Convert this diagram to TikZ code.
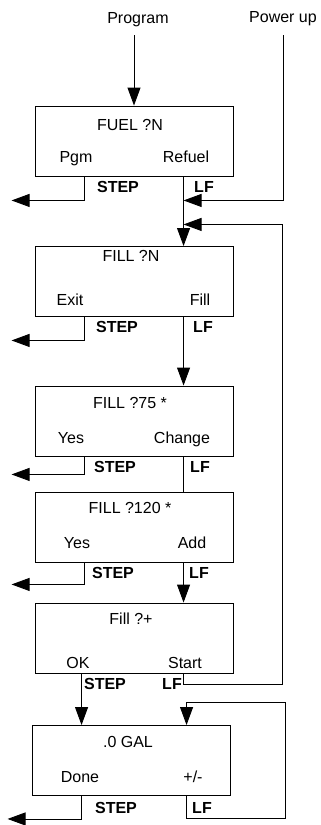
\documentclass[tikz,border=0pt]{standalone}
\usepackage{fontspec}
\setmainfont{Liberation Sans}
\usetikzlibrary{arrows.meta, positioning, calc}

\begin{document}
\begin{tikzpicture}[
  x=1pt, y=-1pt, line width=0.9pt,
  scrn/.style={draw, minimum width=198pt, minimum height=70pt, inner sep=0pt},
  txt/.style={inner sep=0pt, text height=11.5pt, text depth=0pt, font=\fontsize{16}{19}\selectfont},
  keyname/.style={txt, font=\fontsize{16}{19}\selectfont\bfseries},
  flow/.style={-{Triangle[length=18pt, width=13pt]}}
]
  \useasboundingbox (0,0) rectangle (321,825);

  \node[txt] (prog) at (138,18) {Program};
  \node[txt] (pwr) at (283,17) {Power up};

  % screens
  \node[scrn] (fuel) at (134,141) {};
  \node[txt] (fuelT) at (130,125) {FUEL ?N};
  \node[txt] (fuelA) at (76,157) {Pgm};
  \node[txt] (fuelB) at (186,157) {Refuel};
  \node[keyname] (fuelK1) at (118,187) {STEP};
  \node[keyname] (fuelK2) at (204,187) {LF};

  \node[scrn] (fillN) at (134,281.5) {};
  \node[txt] (fillNT) at (131,256) {FILL ?N};
  \node[txt] (fillNA) at (70,300) {Exit};
  \node[txt] (fillNB) at (200,300) {Fill};
  \node[keyname] (fillNK1) at (117,327) {STEP};
  \node[keyname] (fillNK2) at (203,327) {LF};

  \node[scrn] (fill75) at (134,421) {};
  \node[txt] (fill75T) at (130,403) {FILL ?75 *};
  \node[txt] (fill75A) at (71,438) {Yes};
  \node[txt] (fill75B) at (182,438) {Change};
  \node[keyname] (fill75K1) at (115,467) {STEP};
  \node[keyname] (fill75K2) at (200,467) {LF};

  \node[scrn] (fill120) at (134,527) {};
  \node[txt] (fill120T) at (130,508) {FILL ?120 *};
  \node[txt] (fill120A) at (77,543) {Yes};
  \node[txt] (fill120B) at (192,543) {Add};
  \node[keyname] (fill120K1) at (113,573) {STEP};
  \node[keyname] (fill120K2) at (199,573) {LF};

  \node[scrn] (plus) at (134,638) {};
  \node[txt] (plusT) at (131,619) {Fill ?+};
  \node[txt] (plusA) at (78,663) {OK};
  \node[txt] (plusB) at (185,663) {Start};
  \node[keyname] (plusK1) at (105,684) {STEP};
  \node[keyname] (plusK2) at (172,684) {LF};

  \node[scrn] (gal) at (131,760.5) {};
  \node[txt] (galT) at (128,742) {.0 GAL};
  \node[txt] (galA) at (80,777) {Done};
  \node[txt] (galB) at (193,777) {+/-};
  \node[keyname] (galK1) at (116,808) {STEP};
  \node[keyname] (galK2) at (202,808) {LF};

  % key exits
  \coordinate (fuelS) at ($(fuel.south west)+(50,0)$);
  \coordinate (fuelL) at ($(fuel.south west)+(149,0)$);
  \coordinate (fillNS) at ($(fillN.south west)+(50,0)$);
  \coordinate (fillNL) at ($(fillN.south west)+(149,0)$);
  \coordinate (fill75S) at ($(fill75.south west)+(50,0)$);
  \coordinate (fill75L) at ($(fill75.south west)+(149,0)$);
  \coordinate (fill120S) at ($(fill120.south west)+(50,0)$);
  \coordinate (fill120L) at ($(fill120.south west)+(149,0)$);
  \coordinate (plusS) at ($(plus.south west)+(47,0)$);
  \coordinate (plusL) at ($(plus.south west)+(149,0)$);
  \coordinate (galS) at ($(gal.south west)+(50,0)$);
  \coordinate (galL) at ($(gal.south west)+(155,0)$);
  \coordinate (pwrIn) at ($(fuelL)+(0,24)$);
  \coordinate (loopIn) at ($(fuelL)+(0,48)$);

  % connectors
  \draw[flow] ([yshift=-11pt]prog.south -| fuel.north) -- (fuel.north);
  \draw[flow] ([yshift=-12pt]pwr.south) |- (pwrIn);
  \draw[flow] (fuelS) |- ++(-73,24);
  \draw[flow] (fuelL) -- (fuelL |- fillN.north);
  \draw[flow] (fillNS) |- ++(-73,23.5);
  \draw[flow] (fillNL) -- (fillNL |- fill75.north);
  \draw[flow] (fill75S) |- ++(-73,18);
  \draw (fill75L) -- (fill75L |- fill120.north);
  \draw[flow] (fill120S) |- ++(-73,22);
  \draw[flow] (fill120L) -- (fill120L |- plus.north);
  \draw[flow] (plusS) -- (plusS |- gal.north);
  \draw[flow] (plusL) |- ++(99,11) |- (loopIn);
  \draw[flow] (galS) |- ++(-74,23);
  \draw[flow] (galL) |- ++(99,22) |- ++(-99,-116) -- (galL |- gal.north);
\end{tikzpicture}
\end{document}
